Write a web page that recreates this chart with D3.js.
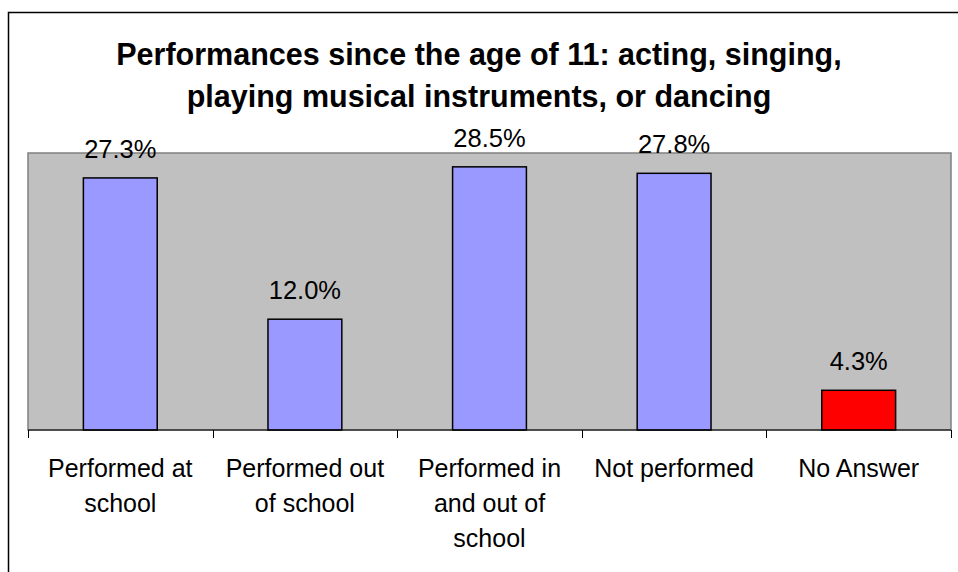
<!DOCTYPE html>
<html>
<head>
<meta charset="utf-8">
<script src="https://cdn.jsdelivr.net/npm/d3@7"></script>
<style>
  html, body { margin: 0; padding: 0; background: #fff; }
  svg { display: block; font-family: "Liberation Sans", Arial, sans-serif; }
</style>
</head>
<body>
<svg id="chart" width="958" height="572"></svg>
<script>
const titleLines = ["Performances since the age of 11: acting, singing,", "playing musical instruments, or dancing"];
const categories = ["Performed at school", "Performed out of school", "Performed in and out of school", "Not performed", "No Answer"];
const tickLabelLines = [["Performed at", "school"], ["Performed out", "of school"], ["Performed in", "and out of", "school"], ["Not performed"], ["No Answer"]];
const values = [27.3, 12.0, 28.5, 27.8, 4.3];
const barColors = ["#9999FF", "#9999FF", "#9999FF", "#9999FF", "#FF0000"];
const yDomain = [0, 30];

const svg = d3.select("#chart");
const W = 958, H = 572;
const plot = { left: 28, top: 153, right: 951, bottom: 430 };

// outer chart border (extends beyond visible area on right/bottom)
svg.append("rect")
  .attr("x", 8.5).attr("y", 12.5)
  .attr("width", W + 20).attr("height", H + 20)
  .attr("fill", "#fff").attr("stroke", "#000").attr("stroke-width", 1.5);

// title
const title = svg.append("text")
  .attr("text-anchor", "middle")
  .attr("font-weight", "bold")
  .attr("font-size", 30.5)
  .attr("fill", "#000");
titleLines.forEach((t, i) => {
  title.append("tspan").attr("x", 479).attr("y", 65 + i * 42).text(t);
});

const x = d3.scaleBand()
  .domain(categories)
  .range([plot.left, plot.right])
  .paddingInner(0.6).paddingOuter(0.3);

const y = d3.scaleLinear().domain(yDomain).range([plot.bottom, plot.top]);

// plot area
svg.append("rect")
  .attr("x", plot.left).attr("y", plot.top)
  .attr("width", plot.right - plot.left).attr("height", plot.bottom - plot.top)
  .attr("fill", "#C0C0C0").attr("stroke", "#808080").attr("stroke-width", 1.5);

// bars
svg.append("g").selectAll("rect")
  .data(values)
  .join("rect")
  .attr("x", (d, i) => x(categories[i]))
  .attr("y", d => y(d))
  .attr("width", x.bandwidth())
  .attr("height", d => y(0) - y(d))
  .attr("fill", (d, i) => barColors[i])
  .attr("stroke", "#000").attr("stroke-width", 1.5);

// value labels
svg.append("g").selectAll("text")
  .data(values)
  .join("text")
  .attr("x", (d, i) => x(categories[i]) + x.bandwidth() / 2)
  .attr("y", d => y(d) - 20)
  .attr("text-anchor", "middle")
  .attr("font-size", 25.5)
  .attr("fill", "#000")
  .text(d => d.toFixed(1) + "%");

// x axis with category-boundary ticks
const step = (plot.right - plot.left) / categories.length;
const boundaries = d3.range(categories.length + 1).map(i => plot.left + i * step);
const axisG = svg.append("g");
axisG.append("line")
  .attr("x1", plot.left).attr("x2", plot.right)
  .attr("y1", plot.bottom).attr("y2", plot.bottom)
  .attr("stroke", "#000").attr("stroke-width", 1);
axisG.selectAll("line.tick")
  .data(boundaries)
  .join("line")
  .attr("class", "tick")
  .attr("x1", d => Math.round(d) + 0.5).attr("x2", d => Math.round(d) + 0.5)
  .attr("y1", plot.bottom).attr("y2", plot.bottom + 8)
  .attr("stroke", "#000").attr("stroke-width", 1);

// category labels
const lbl = svg.append("g").selectAll("text")
  .data(categories)
  .join("text")
  .attr("text-anchor", "middle")
  .attr("font-size", 25)
  .attr("fill", "#000");
lbl.each(function(c, i) {
  const cx = x(c) + x.bandwidth() / 2;
  tickLabelLines[i].forEach((line, j) => {
    d3.select(this).append("tspan").attr("x", cx).attr("y", 477 + j * 35).text(line);
  });
});
</script>
</body>
</html>
